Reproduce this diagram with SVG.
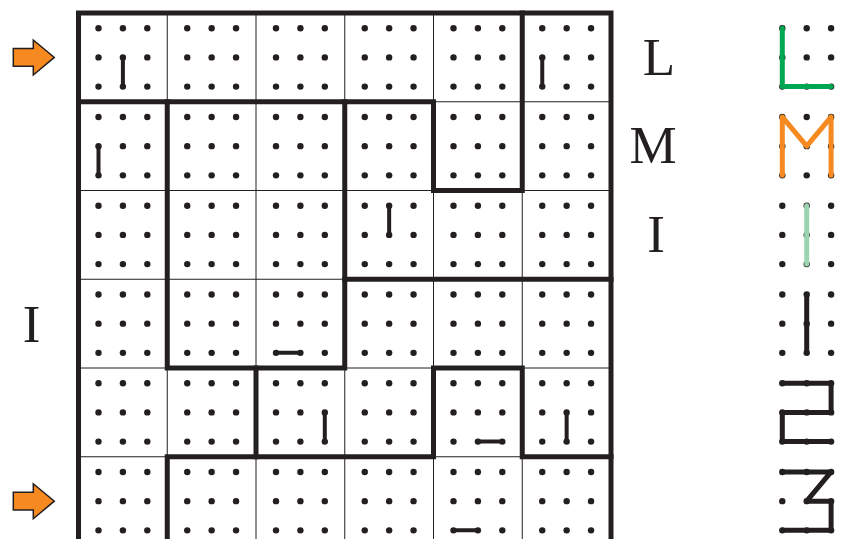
<svg xmlns="http://www.w3.org/2000/svg" xmlns:xlink="http://www.w3.org/1999/xlink" width="845" height="539" viewBox="0 0 845 539">
<style>
.thin{fill:none;stroke:#231f20;stroke-width:1}
.thick{fill:none;stroke:#231f20;stroke-width:5;stroke-linecap:square;stroke-linejoin:miter}
.dot{fill:#231f20}
.seg{fill:none;stroke:#231f20;stroke-width:4;stroke-linecap:round}
.ico{fill:none;stroke-width:5;stroke-linecap:round;stroke-linejoin:round}
.lbl{font-family:"Liberation Serif","Times New Roman",serif;font-size:53px;fill:#231f20;text-anchor:middle}
.arrow{fill:#f6891f;stroke:#231f20;stroke-width:1.5;stroke-linejoin:miter}
</style>
<defs>
<g id="dots9">
<circle class="dot" cx="20" cy="15.2" r="3.2"/><circle class="dot" cx="44.4" cy="15.2" r="3.2"/><circle class="dot" cx="68.8" cy="15.2" r="3.2"/>
<circle class="dot" cx="20" cy="44.4" r="3.2"/><circle class="dot" cx="44.4" cy="44.4" r="3.2"/><circle class="dot" cx="68.8" cy="44.4" r="3.2"/>
<circle class="dot" cx="20" cy="73.6" r="3.2"/><circle class="dot" cx="44.4" cy="73.6" r="3.2"/><circle class="dot" cx="68.8" cy="73.6" r="3.2"/>
</g>
<polygon id="arr" class="arrow" points="13.3,48.5 33.3,48.5 33.3,40 54.3,57.4 33.3,75 33.3,66.3 13.3,66.3"/>
</defs>
<rect width="845" height="539" fill="#ffffff"/>

<g id="grid-thin">
<path class="thin" d="M167.25,13V545.5M256,13V545.5M344.75,13V545.5M433.5,13V545.5M522.25,13V545.5M78.5,101.75H611M78.5,190.5H611M78.5,279.25H611M78.5,368H611M78.5,456.75H611"/>
</g>

<g id="cells">
<g id="r0c0"><use xlink:href="#dots9" x="78.5" y="13"/></g>
<g id="r0c1"><use xlink:href="#dots9" x="167.25" y="13"/></g>
<g id="r0c2"><use xlink:href="#dots9" x="256" y="13"/></g>
<g id="r0c3"><use xlink:href="#dots9" x="344.75" y="13"/></g>
<g id="r0c4"><use xlink:href="#dots9" x="433.5" y="13"/></g>
<g id="r0c5"><use xlink:href="#dots9" x="522.25" y="13"/></g>
<g id="r1c0"><use xlink:href="#dots9" x="78.5" y="101.75"/></g>
<g id="r1c1"><use xlink:href="#dots9" x="167.25" y="101.75"/></g>
<g id="r1c2"><use xlink:href="#dots9" x="256" y="101.75"/></g>
<g id="r1c3"><use xlink:href="#dots9" x="344.75" y="101.75"/></g>
<g id="r1c4"><use xlink:href="#dots9" x="433.5" y="101.75"/></g>
<g id="r1c5"><use xlink:href="#dots9" x="522.25" y="101.75"/></g>
<g id="r2c0"><use xlink:href="#dots9" x="78.5" y="190.5"/></g>
<g id="r2c1"><use xlink:href="#dots9" x="167.25" y="190.5"/></g>
<g id="r2c2"><use xlink:href="#dots9" x="256" y="190.5"/></g>
<g id="r2c3"><use xlink:href="#dots9" x="344.75" y="190.5"/></g>
<g id="r2c4"><use xlink:href="#dots9" x="433.5" y="190.5"/></g>
<g id="r2c5"><use xlink:href="#dots9" x="522.25" y="190.5"/></g>
<g id="r3c0"><use xlink:href="#dots9" x="78.5" y="279.25"/></g>
<g id="r3c1"><use xlink:href="#dots9" x="167.25" y="279.25"/></g>
<g id="r3c2"><use xlink:href="#dots9" x="256" y="279.25"/></g>
<g id="r3c3"><use xlink:href="#dots9" x="344.75" y="279.25"/></g>
<g id="r3c4"><use xlink:href="#dots9" x="433.5" y="279.25"/></g>
<g id="r3c5"><use xlink:href="#dots9" x="522.25" y="279.25"/></g>
<g id="r4c0"><use xlink:href="#dots9" x="78.5" y="368"/></g>
<g id="r4c1"><use xlink:href="#dots9" x="167.25" y="368"/></g>
<g id="r4c2"><use xlink:href="#dots9" x="256" y="368"/></g>
<g id="r4c3"><use xlink:href="#dots9" x="344.75" y="368"/></g>
<g id="r4c4"><use xlink:href="#dots9" x="433.5" y="368"/></g>
<g id="r4c5"><use xlink:href="#dots9" x="522.25" y="368"/></g>
<g id="r5c0"><use xlink:href="#dots9" x="78.5" y="456.75"/></g>
<g id="r5c1"><use xlink:href="#dots9" x="167.25" y="456.75"/></g>
<g id="r5c2"><use xlink:href="#dots9" x="256" y="456.75"/></g>
<g id="r5c3"><use xlink:href="#dots9" x="344.75" y="456.75"/></g>
<g id="r5c4"><use xlink:href="#dots9" x="433.5" y="456.75"/></g>
<g id="r5c5"><use xlink:href="#dots9" x="522.25" y="456.75"/></g>
</g>

<g id="regions">
<rect class="thick" x="78.5" y="13" width="532.5" height="532.5" style="stroke-linecap:butt"/>
<path class="thick" d="M78.5,101.75H433.5V190.5H522.25V13"/>
<path class="thick" d="M167.25,101.75V368H344.75V101.75"/>
<path class="thick" d="M344.75,279.25H611"/>
<path class="thick" d="M256,368V456.75H433.5V368H522.25V456.75H611"/>
<path class="thick" d="M167.25,545.5V456.75H256"/>
</g>

<g id="segments">
<path class="seg" d="M122.9,57.4V86.6M542.25,57.4V86.6M98.5,146.15V175.35M389.15,205.7V234.9M276,352.85H300.4M324.8,412.4V441.6M477.9,441.6H502.3M566.65,412.4V441.6M453.5,530.35H477.9"/>
</g>

<g id="labels">
<text class="lbl" x="659" y="75">L</text>
<text class="lbl" x="653" y="163.3">M</text>
<text class="lbl" x="656" y="251.5">I</text>
<text class="lbl" x="31.7" y="341.5">I</text>
</g>

<g id="arrows">
<use xlink:href="#arr"/>
<use xlink:href="#arr" y="443.75"/>
</g>

<g id="icons">
<g id="icon-L"><use xlink:href="#dots9" x="762.3" y="13"/><path class="ico" stroke="#00a651" d="M782.3,28.2V86.6H831.1"/></g>
<g id="icon-M"><use xlink:href="#dots9" x="762.3" y="101.75"/><path class="ico" stroke="#f6891f" d="M782.3,175.35V116.95L806.7,146.15L831.1,116.95V175.35"/></g>
<g id="icon-I"><use xlink:href="#dots9" x="762.3" y="190.5"/><path class="ico" stroke="#9dd4b0" d="M806.7,205.7V264.1"/></g>
<g id="icon-1"><use xlink:href="#dots9" x="762.3" y="279.25"/><path class="ico" stroke="#231f20" d="M806.7,294.45V352.85"/></g>
<g id="icon-2"><use xlink:href="#dots9" x="762.3" y="368"/><path class="ico" stroke="#231f20" d="M782.3,383.2H831.1V412.4H782.3V441.6H831.1"/></g>
<g id="icon-3"><use xlink:href="#dots9" x="762.3" y="456.75"/><path class="ico" stroke="#231f20" d="M782.3,471.95H831.1L806.7,501.15H831.1V530.35H782.3"/></g>
</g>
</svg>
